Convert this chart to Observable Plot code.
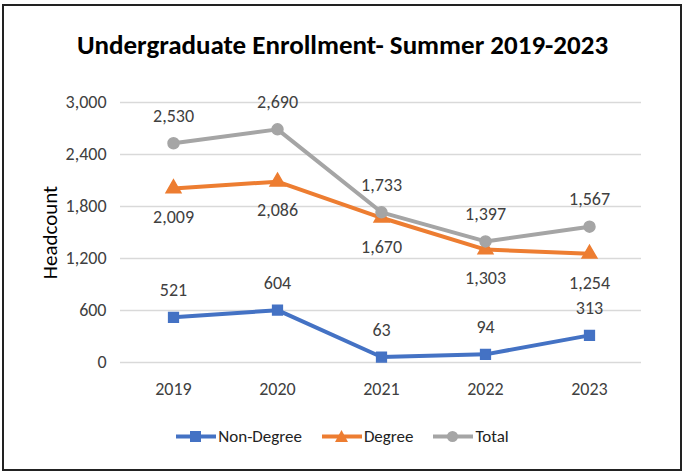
<!DOCTYPE html>
<html><head><meta charset="utf-8">
<script src="https://cdn.jsdelivr.net/npm/d3@7"></script>
<script src="https://cdn.jsdelivr.net/npm/@observablehq/plot@0.6"></script>
<style>
html,body{margin:0;padding:0;background:#fff;}
body{width:685px;height:472px;position:relative;overflow:hidden;font-family:Carlito,"Liberation Sans Narrow","Roboto Condensed",Roboto,sans-serif;}
#frame{position:absolute;left:2px;top:4px;width:680px;height:467px;box-sizing:border-box;border:2px solid #222;}
#title{position:absolute;left:0;top:28px;width:685px;text-align:center;font-weight:bold;font-size:27px;color:#000;}
#chart{position:absolute;left:0;top:80px;}
#chart svg g[aria-label$="tick label"] text{font-size:18px !important;fill:#404040;}
#legend{position:absolute;left:0;top:426px;width:685px;display:flex;justify-content:center;gap:20px;font-size:17px;color:#222;}
#legend .item{display:flex;align-items:center;}
#legend svg{margin-right:2px;}
</style></head>
<body>
<div id="frame"></div>
<div id="title">Undergraduate Enrollment- Summer 2019-2023</div>
<div id="chart"></div>
<div id="legend"></div>
<script>
const years = ["2019","2020","2021","2022","2023"];
const nonDegree = [521, 604, 63, 94, 313];
const degree = [2009, 2086, 1670, 1303, 1254];
const total = [2530, 2690, 1733, 1397, 1567];
const seriesNames = ["Non-Degree","Degree","Total"];
const colors = ["#4472C4","#ED7D31","#A5A5A5"];
const symbols = ["square","triangle","circle"];
const yTicks = [0, 600, 1200, 1800, 2400, 3000];

const rows = [];
[nonDegree, degree, total].forEach((arr, s) => {
  arr.forEach((v, i) => rows.push({series: seriesNames[s], year: years[i], value: v}));
});
const fmt = d3.format(",");

const plot = Plot.plot({
  width: 685, height: 330,
  marginLeft: 120, marginRight: 44, marginTop: 22, marginBottom: 48,
  style: {fontFamily: "Carlito, 'Liberation Sans Narrow', 'Roboto Condensed', Roboto, sans-serif", fontSize: "17px", color: "#404040"},
  x: {type: "point", domain: years, padding: 0.5, label: null, tickSize: 0, tickPadding: 20},
  y: {domain: [0, 3000], ticks: yTicks, tickFormat: fmt, label: "Headcount", tickSize: 0, tickPadding: 15, grid: false},
  color: {domain: seriesNames, range: colors},
  symbol: {domain: seriesNames, range: symbols},
  marks: [
    Plot.ruleY(yTicks, {stroke: "#d9d9d9", strokeWidth: 1.5}),
    Plot.axisY({ticks: yTicks, tickFormat: fmt, tickSize: 0, tickPadding: 14, label: null}),
    Plot.axisX({tickSize: 0, tickPadding: 20, label: null}),
    Plot.text(["Headcount"], {frameAnchor: "left", dx: -70, rotate: -90, textAnchor: "middle", fontSize: 21, fill: "#000"}),
    Plot.line(rows, {x: "year", y: "value", z: "series", stroke: "series", strokeWidth: 4}),
    Plot.dot(rows, {x: "year", y: "value", symbol: "series", fill: "series", stroke: "series", r: 5.5}),
    Plot.text(rows.filter(d => d.series !== "Degree"), {x: "year", y: "value", text: d => fmt(d.value), dy: -27, fontSize: 18, fill: "#404040"}),
    Plot.text(rows.filter(d => d.series === "Degree"), {x: "year", y: "value", text: d => fmt(d.value), dy: 29, fontSize: 18, fill: "#404040"})
  ]
});
document.getElementById("chart").appendChild(plot);

const legend = document.getElementById("legend");
seriesNames.forEach((name, i) => {
  const item = document.createElement("div");
  item.className = "item";
  const sym = symbols[i];
  let shape;
  if (sym === "square") shape = `<rect x="14" y="5" width="11" height="11" fill="${colors[i]}"/>`;
  else if (sym === "triangle") shape = `<path d="M19.5,4 L26,16 L13,16 Z" fill="${colors[i]}"/>`;
  else shape = `<circle cx="19.5" cy="10.5" r="5.5" fill="${colors[i]}"/>`;
  item.innerHTML = `<svg width="40" height="21"><line x1="0" x2="40" y1="10.5" y2="10.5" stroke="${colors[i]}" stroke-width="4"/>${shape}</svg><span>${name}</span>`;
  legend.appendChild(item);
});
</script>
</body></html>
